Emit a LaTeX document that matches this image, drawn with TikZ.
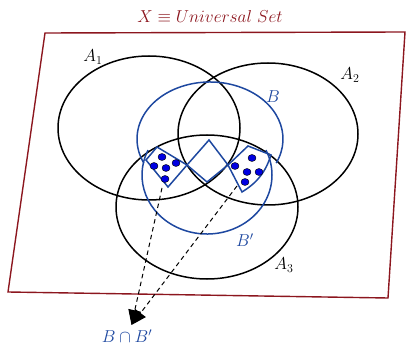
\documentclass[tikz,border=0pt]{standalone}
\usepackage{amssymb}
\usetikzlibrary{arrows.meta,shapes.geometric}
\definecolor{framered}{RGB}{140,22,30}
\definecolor{setblue}{RGB}{30,72,160}
\definecolor{dotblue}{RGB}{0,0,225}

\begin{document}
\begin{tikzpicture}[
      x=1pt, y=1pt,
      every node/.style={font=\fontsize{17.5}{20}\selectfont, inner sep=0pt},
      frame/.style={draw=framered, line width=1.4pt},
      setline/.style={draw=black, line width=1.5pt},
      bline/.style={draw=setblue, line width=1.5pt},
      dot/.style={draw=black, line width=0.4pt, fill=dotblue, ellipse, minimum width=8pt, minimum height=7pt},
      pick/.style={dash pattern=on 4.5pt off 3.5pt, line width=1pt, -{Triangle[length=15pt,width=13pt]}}
  ]
    \useasboundingbox (0,0) rectangle (406,345);
    % universal set
    \draw[frame] (45,312) -- (405,313) -- (388,47) -- (8,53) -- cycle;
    \node[text=framered] (title) at (210,328) {$X\equiv Universal\ Set$};
    % the three sets
    \draw[setline] (149,217) ellipse [x radius=91, y radius=72];
    \draw[setline] (268,211) ellipse [x radius=90, y radius=71];
    \draw[setline] (207,138) ellipse [x radius=91, y radius=72];
    \node (a1) at (93,288) {$A_1$};
    \node (a2) at (350,270) {$A_2$};
    \node (a3) at (284,80) {$A_3$};
    % B and its complement
    \draw[bline] (210,206) ++(-25:73 and 57) arc [start angle=-25, end angle=205, x radius=73, y radius=57];
    \draw[bline] (207,170) ++(155:65 and 59) arc [start angle=155, end angle=385, x radius=65, y radius=59];
    \node[text=setblue] (b) at (273,248) {$B$};
    \node[text=setblue] (bc) at (245,105) {$B'$};
    % zigzag region
    \draw[bline] (146,185) -- (157,198) -- (187,180) -- (209,205) -- (228,180)
      -- (248,199) -- (271,190) to[bend left=20] (242,153) -- (228,180)
      -- (207,163) -- (187,180) -- (168,158) -- cycle;
    % points
    \node[dot] (l1) at (162,188) {};
    \node[dot] (l2) at (154,179) {};
    \node[dot] (l3) at (166,177) {};
    \node[dot] (l4) at (176,182) {};
    \node[dot] (l5) at (165,166) {};
    \node[dot] (r1) at (252,187) {};
    \node[dot] (r2) at (235,179) {};
    \node[dot] (r3) at (247,173) {};
    \node[dot] (r4) at (259,173) {};
    \node[dot] (r5) at (245,163) {};
    % intersection
    \coordinate (ltail) at (162,157);
    \coordinate (rtail) at (237,159);
    \coordinate (tip) at (131.5,20);
    \draw[pick] (ltail) -- (tip);
    \draw[pick] (rtail) -- (tip);
    \node[text=setblue, anchor=base] (meet) at (127,2.5) {$B\cap B'$};
\end{tikzpicture}
\end{document}
